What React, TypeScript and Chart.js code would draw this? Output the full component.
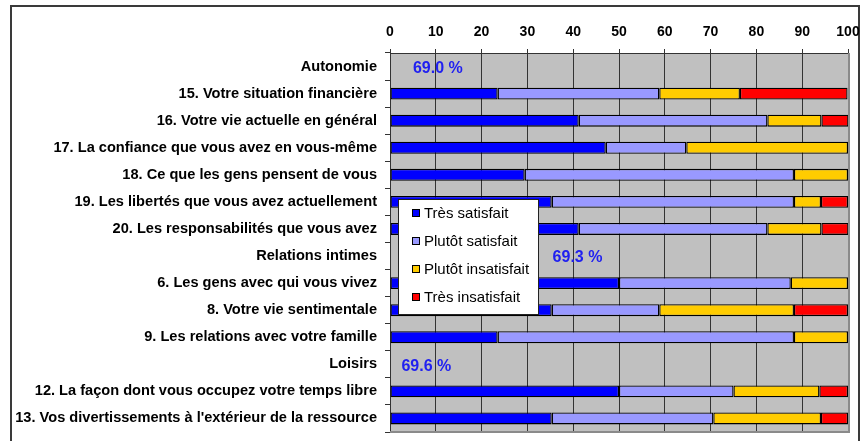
import React, { useEffect, useRef } from "react";
import { Chart, registerables } from "chart.js";

Chart.register(...registerables);

const categories = [
  "Autonomie",
  "15. Votre situation financière",
  "16. Votre vie actuelle en général",
  "17. La confiance que vous avez en vous-même",
  "18. Ce que les gens pensent de vous",
  "19. Les libertés que vous avez actuellement",
  "20. Les responsabilités que vous avez",
  "Relations intimes",
  "6. Les gens avec qui vous vivez",
  "8. Votre vie sentimentale",
  "9. Les relations avec votre famille",
  "Loisirs",
  "12. La façon dont vous occupez votre temps libre",
  "13. Vos divertissements à l'extérieur de la ressource",
];

const seriesLabels = ["Très satisfait", "Plutôt satisfait", "Plutôt insatisfait", "Très insatisfait"];
const seriesColors = ["#0000FF", "#9999FF", "#FFCC00", "#FF0000"];

const tresSatisfait = [null, 23.5, 41.2, 47.1, 29.4, 35.3, 41.2, null, 50, 35.3, 23.5, null, 50, 35.3];
const plutotSatisfait = [null, 35.3, 41.2, 17.6, 58.8, 52.9, 41.2, null, 37.5, 23.5, 64.7, null, 25, 35.3];
const plutotInsatisfait = [null, 17.6, 11.8, 35.3, 11.8, 5.9, 11.8, null, 12.5, 29.4, 11.8, null, 18.75, 23.5];
const tresInsatisfait = [null, 23.5, 5.9, 0, 0, 5.9, 5.9, null, 0, 11.8, 0, null, 6.25, 5.9];

const xTicks = [0, 10, 20, 30, 40, 50, 60, 70, 80, 90, 100];

const sectionLabels = ["69.0 %", "69.3 %", "69.6 %"];
const sectionRows = ["Autonomie", "Relations intimes", "Loisirs"];
const sectionLabelX = [5, 35.5, 2.5];

const FONT = "'Liberation Sans', Arial, sans-serif";

export default function App() {
  const ref = useRef<HTMLCanvasElement | null>(null);

  useEffect(() => {
    const canvas = ref.current;
    if (!canvas) return;
    const allSeries = [tresSatisfait, plutotSatisfait, plutotInsatisfait, tresInsatisfait];

    const framePlugin = {
      id: "frame",
      beforeDraw(chart: any) {
        const { ctx, chartArea } = chart;
        ctx.save();
        ctx.fillStyle = "#C0C0C0";
        ctx.fillRect(chartArea.left, chartArea.top, chartArea.right - chartArea.left, chartArea.bottom - chartArea.top);
        ctx.strokeStyle = "#3a3a3a";
        ctx.lineWidth = 2;
        ctx.beginPath();
        ctx.moveTo(11, 445);
        ctx.lineTo(11, 6);
        ctx.lineTo(859, 6);
        ctx.lineTo(859, 445);
        ctx.stroke();
        ctx.restore();
      },
      beforeDatasetsDraw(chart: any) {
        const { ctx, chartArea } = chart;
        ctx.save();
        ctx.strokeStyle = "#8a8a8a";
        ctx.lineWidth = 2;
        ctx.beginPath();
        ctx.moveTo(chartArea.left, chartArea.bottom);
        ctx.lineTo(chartArea.right + 1, chartArea.bottom);
        ctx.lineTo(chartArea.right + 1, chartArea.top);
        ctx.stroke();
        ctx.restore();
      },
      afterDatasetsDraw(chart: any) {
        const { ctx } = chart;
        const xs = chart.scales.x;
        const ys = chart.scales.y;
        ctx.save();
        ctx.font = "bold 16px " + FONT;
        ctx.fillStyle = "#2020F0";
        ctx.textAlign = "left";
        ctx.textBaseline = "middle";
        sectionLabels.forEach((t, i) => {
          const idx = categories.indexOf(sectionRows[i]);
          ctx.fillText(t, xs.getPixelForValue(sectionLabelX[i]), ys.getPixelForValue(idx) + 2);
        });
        const bx = 398, by = 199, bw = 140, bh = 115;
        ctx.fillStyle = "#FFFFFF";
        ctx.fillRect(bx, by, bw, bh);
        ctx.strokeStyle = "#222";
        ctx.lineWidth = 1;
        ctx.strokeRect(bx + 0.5, by + 0.5, bw, bh);
        ctx.font = "15px " + FONT;
        chart.data.datasets.forEach((ds: any, i: number) => {
          const cy = 213 + i * 28;
          ctx.fillStyle = ds.backgroundColor;
          ctx.fillRect(412, cy - 4, 8, 8);
          ctx.strokeStyle = "#000";
          ctx.strokeRect(412.5, cy - 3.5, 7, 7);
          ctx.fillStyle = "#000";
          ctx.fillText(ds.label, 424, cy + 1);
        });
        ctx.restore();
      },
    };

    const chart = new Chart(canvas, {
      type: "bar",
      data: {
        labels: categories,
        datasets: allSeries.map((s, i) => ({
          label: seriesLabels[i],
          data: s.map((v) => (v === 0 ? null : v)),
          backgroundColor: seriesColors[i],
          borderColor: "#000",
          borderWidth: 1.3,
          borderSkipped: false,
          barPercentage: 0.44,
          categoryPercentage: 1,
        })),
      },
      options: {
        indexAxis: "y",
        responsive: false,
        animation: false,
        devicePixelRatio: 1,
        layout: { padding: { left: 0, top: 0, right: 14, bottom: 9 } },
        plugins: {
          legend: { display: false },
          tooltip: { enabled: false },
        },
        scales: {
          x: {
            position: "top",
            stacked: true,
            min: 0,
            max: 100,
            afterFit: (scale: any) => {
              scale.height = 53;
              scale.paddingLeft = 0;
              scale.paddingRight = 0;
            },
            afterBuildTicks: (scale: any) => {
              scale.ticks = xTicks.map((v) => ({ value: v }));
            },
            grid: {
              color: (c: any) => (c.tick && c.tick.value === 100 ? "#8a8a8a" : "#333"),
              lineWidth: 1,
              tickLength: 4,
              tickColor: "#333",
            },
            border: { display: true, color: "#333" },
            ticks: {
              font: { family: FONT, size: 14, weight: "bold" },
              color: "#000",
              padding: 8,
              maxRotation: 0,
            },
          },
          y: {
            stacked: true,
            afterFit: (scale: any) => {
              scale.width = 390;
              scale.paddingTop = 0;
              scale.paddingBottom = 0;
            },
            grid: {
              drawOnChartArea: false,
              drawTicks: true,
              tickLength: 5,
              color: "#333",
              offset: true,
            },
            border: { display: true, color: "#333" },
            ticks: {
              font: { family: FONT, size: 14.6, weight: "bold" },
              color: "#000",
              padding: 8,
              autoSkip: false,
            },
          },
        },
      },
      plugins: [framePlugin],
    } as any);

    return () => chart.destroy();
  }, []);

  return (
    <div style={{ position: "fixed", left: 0, top: 0, width: 862, height: 441, background: "#fff" }}>
      <canvas ref={ref} width={862} height={441} style={{ display: "block" }} />
    </div>
  );
}
